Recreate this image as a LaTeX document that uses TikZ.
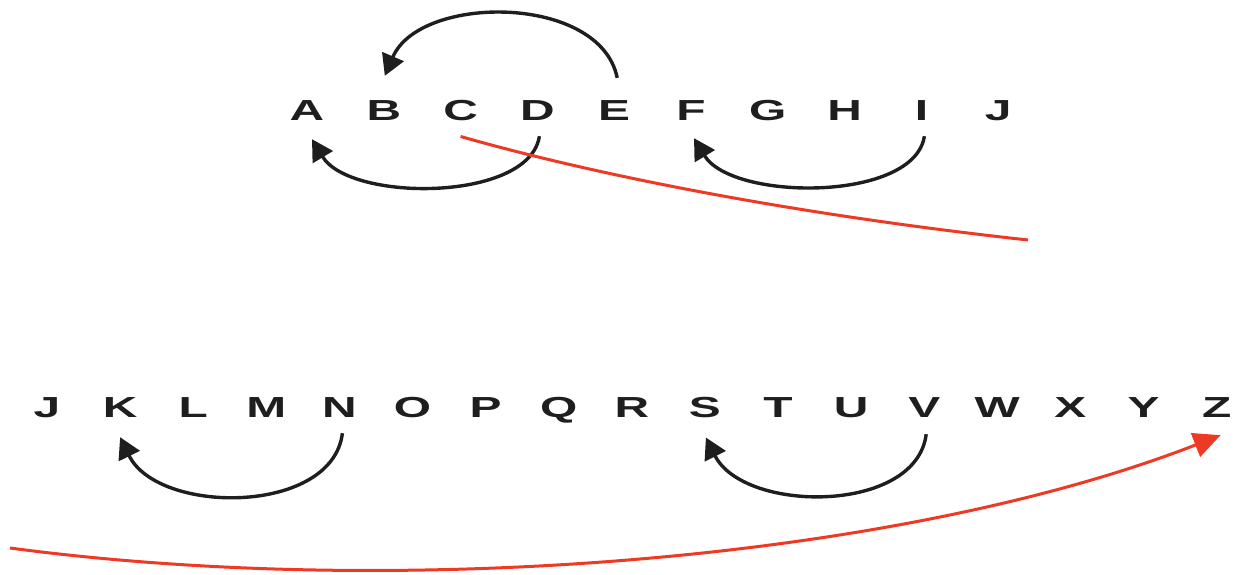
\documentclass[tikz,border=0pt]{standalone}
\usepackage{fontspec}
\setmainfont{Liberation Sans}[FakeStretch=1.65]
\usetikzlibrary{arrows.meta,calc}
\definecolor{arcblack}{RGB}{30,30,30}
\definecolor{redline}{RGB}{238,58,36}
\begin{document}
\begin{tikzpicture}[x=1pt,y=-1pt,
  letter/.style={anchor=base,inner sep=0pt,text=arcblack,font=\fontsize{29}{30}\selectfont\bfseries},
  blackarc/.style={draw=arcblack,line width=3.4pt,-{Triangle[length=21pt,width=23pt]}},
  redarc/.style={draw=redline,line width=3pt},
  redarrow/.style={redarc,-{Triangle[length=27pt,width=25pt]}}]
\useasboundingbox (0,0) rectangle (1237,575);
% top row
\foreach \l [count=\i from 0] in {A,B,C,D,E,F,G,H,I,J}
  \node[letter] (t\l) at (307+76.8*\i,121) {\l};
% bottom row
\foreach \l [count=\i from 0] in {J,K,L,M,N,O,P,Q,R,S,T,U,V,W,X,Y,Z}
  \node[letter] (b\l) at (47+73.1*\i,417) {\l};
% black arcs
\draw[blackarc] ($(tE.north)+(3,-23)$) .. controls +(-17,-84) and +(35,-82) .. ($(tB.north)+(1,-25)$);
\draw[blackarc] ($(tD.south)+(2,15)$) .. controls +(-10,66) and +(38,63) .. ($(tA.south)+(5,18)$);
\draw[blackarc] ($(tI.south)+(3,15)$) .. controls +(-10,66) and +(38,63) .. ($(tF.south)+(3,17)$);
\draw[blackarc] ($(bN.south)+(3,16)$) .. controls +(-10,82) and +(38,78) .. ($(bK.south)+(0,20)$);
\draw[blackarc] ($(bV.south)+(2,17)$) .. controls +(-10,80) and +(38,76) .. ($(bS.south)+(1,20)$);
% red connectors
\coordinate (rEnd) at (1028,240);
\coordinate (rStart) at (10,548);
\draw[redarc] ($(tC.south)+(0,15)$) .. controls +(140,40) and +(-228,-25) .. (rEnd);
\draw[redarrow] (rStart) .. controls +(390,52) and +(-321,125) .. ($(bZ.south)+(4,18)$);
\end{tikzpicture}
\end{document}
